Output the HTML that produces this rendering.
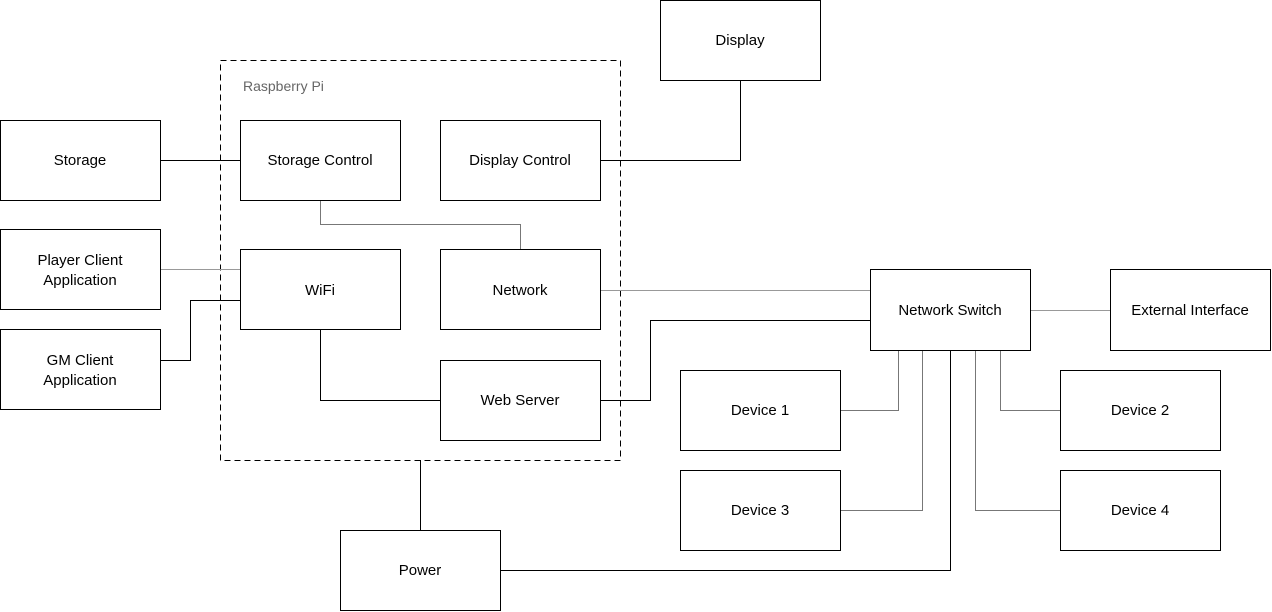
<!DOCTYPE html>
<html><head><meta charset="utf-8"><style>
html,body{margin:0;padding:0;background:#fff;}
svg{display:block;}
text{font-family:"Liberation Sans",Arial,sans-serif;font-size:15px;fill:#000;}
</style></head><body>
<svg width="1272" height="612" viewBox="0 0 1272 612" xmlns="http://www.w3.org/2000/svg">
<g fill="none" stroke-width="1" shape-rendering="crispEdges">
<rect x="220.5" y="60.5" width="400" height="400" stroke="#000" stroke-dasharray="6,4"/>
<!-- connectors -->
<path d="M160 160.5H240" stroke="#000"/>
<path d="M160 269.5H240" stroke="#999"/>
<path d="M160 360.5H190.5V300.5H240" stroke="#000"/>
<path d="M320.5 200V224.5H520.5V249" stroke="#777"/>
<path d="M320.5 329V400.5H440" stroke="#000"/>
<path d="M600 160.5H740.5V80" stroke="#000"/>
<path d="M600 290.5H870" stroke="#999"/>
<path d="M600 400.5H650.5V320.5H870" stroke="#000"/>
<path d="M1030 310.5H1110" stroke="#999"/>
<path d="M840 410.5H898.5V350" stroke="#777"/>
<path d="M840 510.5H922.5V350" stroke="#777"/>
<path d="M500 570.5H950.5V350" stroke="#000"/>
<path d="M1060 410.5H1000.5V350" stroke="#777"/>
<path d="M1060 510.5H975.5V350" stroke="#777"/>
<path d="M420.5 460V530" stroke="#000"/>
<!-- boxes -->
<g stroke="#000" fill="#fff">
<rect x="0.5" y="120.5" width="160" height="80"/>
<rect x="0.5" y="229.5" width="160" height="80"/>
<rect x="0.5" y="329.5" width="160" height="80"/>
<rect x="240.5" y="120.5" width="160" height="80"/>
<rect x="440.5" y="120.5" width="160" height="80"/>
<rect x="240.5" y="249.5" width="160" height="80"/>
<rect x="440.5" y="249.5" width="160" height="80"/>
<rect x="440.5" y="360.5" width="160" height="80"/>
<rect x="660.5" y="0.5" width="160" height="80"/>
<rect x="870.5" y="269.5" width="160" height="81"/>
<rect x="1110.5" y="269.5" width="160" height="81"/>
<rect x="680.5" y="370.5" width="160" height="80"/>
<rect x="1060.5" y="370.5" width="160" height="80"/>
<rect x="680.5" y="470.5" width="160" height="80"/>
<rect x="1060.5" y="470.5" width="160" height="80"/>
<rect x="340.5" y="530.5" width="160" height="80"/>
</g>
</g>
<g text-anchor="middle">
<text x="80" y="165">Storage</text>
<text x="80" y="265">Player Client</text>
<text x="80" y="285">Application</text>
<text x="80" y="365">GM Client</text>
<text x="80" y="385">Application</text>
<text x="320" y="165">Storage Control</text>
<text x="520" y="165">Display Control</text>
<text x="320" y="295">WiFi</text>
<text x="520" y="295">Network</text>
<text x="520" y="405">Web Server</text>
<text x="740" y="45">Display</text>
<text x="950" y="315">Network Switch</text>
<text x="1190" y="315">External Interface</text>
<text x="760" y="415">Device 1</text>
<text x="1140" y="415">Device 2</text>
<text x="760" y="515">Device 3</text>
<text x="1140" y="515">Device 4</text>
<text x="420" y="575">Power</text>
</g>
<text x="243" y="91" style="font-size:14px;fill:#666">Raspberry Pi</text>
</svg>
</body></html>
